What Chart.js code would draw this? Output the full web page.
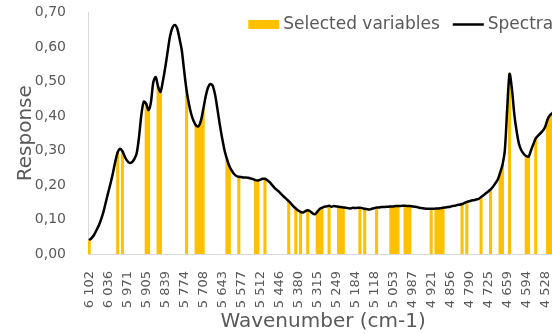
<!DOCTYPE html>
<html>
<head>
<meta charset="utf-8">
<script src="https://cdn.jsdelivr.net/npm/chart.js@4.4.0/dist/chart.umd.min.js"></script>
<style>
  html, body { margin: 0; padding: 0; background: #fff; overflow: hidden; }
  #wrap { width: 552px; height: 334px; overflow: hidden; position: relative; }
  canvas { position: absolute; left: 0; top: 0; }
</style>
</head>
<body>
<div id="wrap"><canvas id="grafico" width="562" height="334"></canvas></div>
<script>
// wavenumbers shown on the axis (every 8th point of the spectrum)
const tickLabels = [6102, 6036, 5971, 5905, 5839, 5774, 5708, 5643, 5577, 5512, 5446, 5380, 5315,
  5249, 5184, 5118, 5053, 4987, 4921, 4856, 4790, 4725, 4659, 4594, 4528];
const pontosPorTick = 8;
const passo = (6102 - 4528) / 192;

// mean spectrum, one value per point
const espectro = [
  0.040, 0.046, 0.055, 0.068, 0.082, 0.100, 0.122, 0.150,
  0.178, 0.205, 0.235, 0.268, 0.295, 0.305, 0.298, 0.282,
  0.270, 0.264, 0.266, 0.275, 0.292, 0.340, 0.405, 0.442,
  0.435, 0.417, 0.440, 0.498, 0.513, 0.485, 0.470, 0.500,
  0.540, 0.585, 0.630, 0.655, 0.664, 0.655, 0.625, 0.590,
  0.530, 0.475, 0.435, 0.405, 0.385, 0.372, 0.370, 0.385,
  0.418, 0.455, 0.482, 0.493, 0.488, 0.462, 0.420, 0.375,
  0.335, 0.300, 0.275, 0.255, 0.242, 0.232, 0.226, 0.224,
  0.223, 0.222, 0.222, 0.221, 0.219, 0.217, 0.214, 0.213,
  0.215, 0.218, 0.218, 0.214, 0.208, 0.200, 0.192, 0.186,
  0.180, 0.173, 0.166, 0.160, 0.153, 0.146, 0.138, 0.132,
  0.126, 0.122, 0.120, 0.124, 0.127, 0.124, 0.118, 0.115,
  0.122, 0.130, 0.134, 0.137, 0.138, 0.140, 0.137, 0.139,
  0.138, 0.137, 0.136, 0.135, 0.134, 0.133, 0.132, 0.134,
  0.133, 0.134, 0.134, 0.133, 0.131, 0.130, 0.129, 0.131,
  0.133, 0.135, 0.135, 0.136, 0.136, 0.137, 0.137, 0.138,
  0.138, 0.139, 0.139, 0.139, 0.140, 0.140, 0.139, 0.139,
  0.138, 0.137, 0.136, 0.134, 0.133, 0.132, 0.131, 0.131,
  0.131, 0.131, 0.132, 0.132, 0.133, 0.134, 0.135, 0.136,
  0.137, 0.139, 0.140, 0.142, 0.143, 0.145, 0.148, 0.151,
  0.153, 0.155, 0.156, 0.158, 0.160, 0.165, 0.170, 0.176,
  0.181, 0.187, 0.195, 0.205, 0.215, 0.235, 0.258, 0.300,
  0.420, 0.522, 0.478, 0.405, 0.355, 0.318, 0.300, 0.290,
  0.284, 0.282, 0.300, 0.318, 0.335, 0.343, 0.350, 0.357,
  0.369, 0.390, 0.402, 0.408, 0.415, 0.420
];

// indices of the selected variables
const selecionados = [0, 12, 14, 24, 25, 29, 30, 41, 45, 46, 47, 48, 58, 59, 63, 70, 71, 74,
  84, 87, 89, 92, 96, 97, 98, 101, 105, 106, 107, 114, 116, 121, 127, 128, 129, 130,
  133, 134, 135, 144, 146, 147, 148, 149, 157, 159, 165, 169, 173, 174, 177,
  184, 185, 188, 193, 194, 195, 196, 197];

const FONTE = "'DejaVu Sans', sans-serif";
const CINZA = '#595959';
const AMARELO = '#FFC000';

const numeros = espectro.map((_, i) => Math.round(6102 - i * passo));
const barras = espectro.map((v, i) => selecionados.includes(i) ? v : null);

function formatarNumero(n) {
  return Math.floor(n / 1000) + ' ' + String(n % 1000).padStart(3, '0');
}

// legend drawn inside the plot, top right
const legendaInterna = {
  id: 'legendaInterna',
  afterDraw(chart) {
    const ctx = chart.ctx;
    const area = chart.chartArea;
    const itens = chart.data.datasets.map(d => ({ texto: d.label, tipo: d.type, cor: d.type === 'bar' ? d.backgroundColor : d.borderColor }));
    ctx.save();
    ctx.font = "17px " + FONTE;
    ctx.textBaseline = 'middle';
    const larguraMarca = 31;
    const larguras = itens.map(it => ctx.measureText(it.texto).width);
    const total = itens.reduce((s, it, i) => s + larguraMarca + 4 + larguras[i], 0) + 13 * (itens.length - 1);
    let x = area.right - 5 - total;
    const y = area.top + 12;
    itens.forEach((it, i) => {
      if (it.tipo === 'bar') {
        ctx.fillStyle = it.cor;
        ctx.fillRect(x, y - 4.5, larguraMarca, 9);
      } else {
        ctx.strokeStyle = it.cor;
        ctx.lineWidth = 2.5;
        ctx.beginPath();
        ctx.moveTo(x, y);
        ctx.lineTo(x + larguraMarca, y);
        ctx.stroke();
      }
      x += larguraMarca + 4;
      ctx.fillStyle = CINZA;
      ctx.fillText(it.texto, x, y);
      x += larguras[i] + 13;
    });
    ctx.restore();
  }
};

Chart.defaults.font.family = FONTE;
Chart.defaults.color = CINZA;

new Chart(document.getElementById('grafico'), {
  type: 'bar',
  data: {
    labels: numeros,
    datasets: [
      {
        type: 'bar',
        label: 'Selected variables',
        data: barras,
        backgroundColor: AMARELO,
        borderWidth: 0,
        barPercentage: 1,
        categoryPercentage: 1,
        order: 1
      },
      {
        type: 'line',
        label: 'Spectra',
        data: espectro,
        borderColor: '#000000',
        borderWidth: 2.5,
        pointRadius: 0,
        tension: 0.3,
        order: 0
      }
    ]
  },
  options: {
    responsive: false,
    animation: false,
    layout: { padding: { left: 0, right: 3.75, top: 12.5, bottom: 0 } },
    plugins: {
      tooltip: { enabled: false },
      legend: { display: false }
    },
    scales: {
      x: {
        grid: { display: false },
        border: { display: true, color: '#D9D9D9', width: 1 },
        ticks: {
          autoSkip: false,
          minRotation: 90,
          maxRotation: 90,
          padding: 9,
          color: CINZA,
          font: { size: 13 },
          callback: (v, i) => i % pontosPorTick === 0 ? formatarNumero(tickLabels[i / pontosPorTick]) : ''
        },
        title: {
          display: true,
          text: 'Wavenumber (cm-1)',
          color: CINZA,
          font: { size: 20 },
          padding: { top: 0, bottom: 0 }
        },
        afterFit: (scale) => {
          scale.height = 80;
          scale.paddingLeft = 0;
          scale.paddingRight = 0;
        }
      },
      y: {
        min: 0,
        max: 0.7,
        grid: { display: false },
        border: { display: true, color: '#D9D9D9', width: 1 },
        ticks: {
          stepSize: 0.1,
          padding: 14,
          color: CINZA,
          font: { size: 14 },
          callback: (v) => v.toFixed(2).replace('.', ',')
        },
        title: {
          display: true,
          text: 'Response',
          color: CINZA,
          font: { size: 20 },
          padding: { top: 14, bottom: 0 }
        },
        afterFit: (scale) => {
          scale.width = 88;
          scale.paddingTop = 0;
          scale.paddingBottom = 0;
        }
      }
    }
  },
  plugins: [legendaInterna]
});
</script>
</body>
</html>
